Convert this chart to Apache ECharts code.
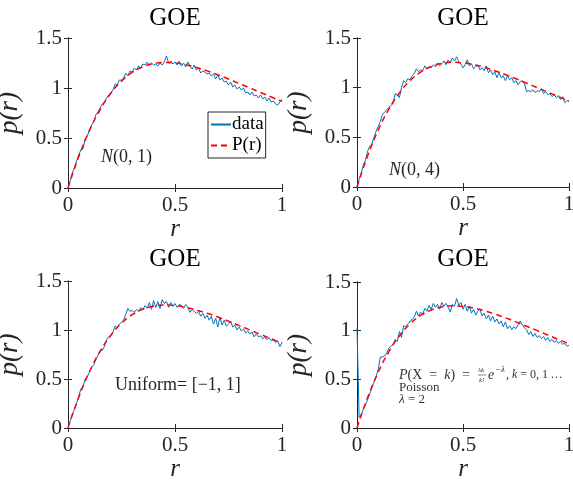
<!DOCTYPE html>
<html>
<head>
<meta charset="utf-8">
<script src="https://cdn.jsdelivr.net/npm/echarts@6/dist/echarts.min.js"></script>
<style>
  html, body { margin: 0; padding: 0; background: #fff; }
  #main { width: 573px; height: 480px; }
</style>
</head>
<body>
<div id="main"></div>
<script>
const chart = echarts.init(document.getElementById("main"));

// sample positions of the histogram (r)
const rData = [0, 0.01, 0.02, 0.03, 0.04, 0.05, 0.06, 0.07, 0.08, 0.09,
    0.10, 0.11, 0.12, 0.13, 0.14, 0.15, 0.16, 0.17, 0.18, 0.19,
    0.20, 0.21, 0.22, 0.23, 0.24, 0.25, 0.26, 0.27, 0.28, 0.29,
    0.30, 0.31, 0.32, 0.33, 0.34, 0.35, 0.36, 0.37, 0.38, 0.39,
    0.40, 0.41, 0.42, 0.43, 0.44, 0.45, 0.46, 0.47, 0.48, 0.49,
    0.50, 0.51, 0.52, 0.53, 0.54, 0.55, 0.56, 0.57, 0.58, 0.59,
    0.60, 0.61, 0.62, 0.63, 0.64, 0.65, 0.66, 0.67, 0.68, 0.69,
    0.70, 0.71, 0.72, 0.73, 0.74, 0.75, 0.76, 0.77, 0.78, 0.79,
    0.80, 0.81, 0.82, 0.83, 0.84, 0.85, 0.86, 0.87, 0.88, 0.89,
    0.90, 0.91, 0.92, 0.93, 0.94, 0.95, 0.96, 0.97, 0.98, 0.99, 1.00];

// N(0,1)
const dataN01 = [0.00, 0.07, 0.15, 0.20, 0.27, 0.33, 0.38, 0.39, 0.49, 0.52,
    0.58, 0.63, 0.66, 0.73, 0.76, 0.80, 0.84, 0.86, 0.90, 0.93,
    0.95, 0.98, 1.04, 1.03, 1.08, 1.08, 1.10, 1.15, 1.12, 1.17,
    1.16, 1.20, 1.18, 1.22, 1.20, 1.24, 1.23, 1.26, 1.23, 1.25,
    1.23, 1.24, 1.22, 1.25, 1.23, 1.26, 1.32, 1.25, 1.27, 1.24,
    1.26, 1.23, 1.27, 1.22, 1.25, 1.21, 1.26, 1.22, 1.19, 1.23,
    1.18, 1.20, 1.15, 1.17, 1.16, 1.14, 1.15, 1.12, 1.14, 1.09,
    1.13, 1.08, 1.10, 1.06, 1.07, 1.03, 1.06, 1.01, 1.03, 0.99,
    1.01, 0.98, 1.00, 0.95, 0.96, 0.93, 0.96, 0.92, 0.93, 0.90,
    0.93, 0.89, 0.91, 0.87, 0.90, 0.86, 0.87, 0.84, 0.83, 0.86, 0.89];

// N(0,4)
const dataN04 = [0.00, 0.08, 0.14, 0.22, 0.27, 0.36, 0.41, 0.43, 0.50, 0.56,
    0.61, 0.66, 0.73, 0.75, 0.78, 0.80, 0.82, 0.84, 0.94, 0.93,
    0.90, 1.00, 1.07, 1.05, 1.09, 1.08, 1.12, 1.14, 1.19, 1.16,
    1.18, 1.17, 1.22, 1.19, 1.21, 1.20, 1.23, 1.21, 1.25, 1.22,
    1.24, 1.27, 1.23, 1.28, 1.25, 1.30, 1.27, 1.31, 1.26, 1.24,
    1.20, 1.23, 1.28, 1.22, 1.24, 1.19, 1.21, 1.23, 1.18, 1.20,
    1.17, 1.22, 1.15, 1.18, 1.13, 1.16, 1.10, 1.15, 1.10, 1.12,
    1.07, 1.12, 1.08, 1.10, 1.05, 1.07, 1.03, 1.06, 1.07, 1.04,
    0.96, 0.97, 0.96, 0.98, 0.95, 0.97, 0.96, 0.99, 0.94, 0.96,
    0.93, 0.94, 0.91, 0.93, 0.90, 0.92, 0.88, 0.91, 0.85, 0.87, 0.86];

// Uniform [-1,1]
const dataUni = [0.04, 0.07, 0.14, 0.19, 0.25, 0.32, 0.40, 0.42, 0.50, 0.52,
    0.57, 0.62, 0.64, 0.70, 0.74, 0.79, 0.79, 0.83, 0.90, 0.93,
    0.94, 0.98, 1.04, 1.02, 1.06, 1.08, 1.10, 1.16, 1.22, 1.19,
    1.20, 1.18, 1.21, 1.19, 1.23, 1.21, 1.25, 1.22, 1.28, 1.21,
    1.30, 1.23, 1.29, 1.22, 1.31, 1.27, 1.29, 1.23, 1.28, 1.24,
    1.27, 1.23, 1.26, 1.25, 1.22, 1.26, 1.23, 1.18, 1.21, 1.19,
    1.17, 1.19, 1.14, 1.17, 1.12, 1.15, 1.10, 1.14, 1.06, 1.12,
    1.03, 1.13, 1.05, 1.10, 1.04, 1.06, 1.09, 1.03, 1.05, 1.00,
    1.03, 0.99, 1.01, 0.97, 0.99, 0.96, 0.98, 0.93, 0.96, 0.93,
    0.94, 0.91, 0.93, 0.90, 0.92, 0.89, 0.90, 0.87, 0.89, 0.83, 0.87];

// Poisson lambda = 2
const dataPoi = [1.03, 0.11, 0.14, 0.19, 0.24, 0.29, 0.35, 0.41, 0.47, 0.53,
    0.60, 0.73, 0.73, 0.74, 0.77, 0.82, 0.84, 0.86, 0.91, 0.89,
    0.99, 0.93, 1.05, 1.04, 1.07, 1.09, 1.12, 1.14, 1.20, 1.15,
    1.19, 1.17, 1.23, 1.20, 1.26, 1.22, 1.28, 1.24, 1.27, 1.22,
    1.29, 1.25, 1.28, 1.24, 1.19, 1.27, 1.25, 1.33, 1.26, 1.29,
    1.22, 1.27, 1.20, 1.25, 1.18, 1.22, 1.16, 1.20, 1.22, 1.15,
    1.18, 1.12, 1.16, 1.10, 1.15, 1.09, 1.12, 1.07, 1.10, 1.04,
    1.09, 1.02, 1.05, 1.01, 1.04, 1.02, 1.06, 1.10, 1.06, 1.03,
    1.01, 0.96, 0.99, 0.94, 0.97, 0.93, 0.95, 0.92, 0.94, 0.90,
    0.93, 0.89, 0.91, 0.88, 0.90, 0.87, 0.89, 0.86, 0.87, 0.84, 0.85];

// red dashed curve P(r)
const rCurve = [0, 0.05, 0.10, 0.15, 0.20, 0.25, 0.30, 0.35, 0.40, 0.45, 0.50,
    0.55, 0.60, 0.65, 0.70, 0.75, 0.80, 0.85, 0.90, 0.95, 1.00];
const pCurve = [0, 0.312, 0.572, 0.782, 0.946, 1.069, 1.156, 1.212, 1.244, 1.255, 1.250,
    1.232, 1.205, 1.171, 1.132, 1.090, 1.045, 1.000, 0.955, 0.910, 0.866];

const xTicks = ["0", "0.5", "1"];
const yTicks = ["0", "0.5", "1", "1.5"];

const panelData = [dataN01, dataN04, dataUni, dataPoi];

const grids = [
    { left: 68, top: 38, width: 214, height: 150, outerBoundsMode: "none" },
    { left: 357, top: 38, width: 212, height: 149, outerBoundsMode: "none" },
    { left: 68, top: 281, width: 214, height: 147, outerBoundsMode: "none" },
    { left: 357, top: 282, width: 212, height: 146, outerBoundsMode: "none" }
];

const serif = "Liberation Serif";
const axisColor = "#262626";

let xAxes = [], yAxes = [], series = [];

grids.forEach((g, i) => {
    xAxes.push({
        type: "value", gridIndex: i, min: 0, max: 1, interval: 0.5,
        name: "r", nameLocation: "middle", nameGap: 18,
        nameTextStyle: { fontFamily: serif, fontStyle: "italic", fontSize: 25, color: axisColor },
        axisLine: { lineStyle: { color: axisColor } },
        axisTick: { inside: true, length: 4, lineStyle: { color: axisColor } },
        axisLabel: {
            fontFamily: serif, fontSize: 21, color: axisColor, margin: 7,
            formatter: (v) => xTicks[Math.round(v * 2)]
        },
        splitLine: { show: false }
    });
    yAxes.push({
        type: "value", gridIndex: i, min: 0, max: 1.5, interval: 0.5,
        name: "p(r)", nameLocation: "middle", nameGap: 45, nameRotate: 90,
        nameTextStyle: { fontFamily: serif, fontStyle: "italic", fontSize: 27, color: axisColor },
        axisLine: { show: true, lineStyle: { color: axisColor } },
        axisTick: { show: true, inside: true, length: 4, lineStyle: { color: axisColor } },
        axisLabel: {
            fontFamily: serif, fontSize: 21, color: axisColor, margin: 6,
            formatter: (v) => yTicks[Math.round(v * 2)]
        },
        splitLine: { show: false }
    });
    series.push({
        name: "data", type: "line", xAxisIndex: i, yAxisIndex: i,
        data: rData.map((r, k) => [r, panelData[i][k]]),
        symbol: "none", lineStyle: { color: "#0072BD", width: 1 },
        itemStyle: { color: "#0072BD" }, z: 2
    });
    series.push({
        name: "P(r)", type: "line", xAxisIndex: i, yAxisIndex: i,
        data: rCurve.map((r, k) => [r, pCurve[k]]),
        smooth: true, symbol: "none",
        lineStyle: { color: "#ff0000", width: 1.5, type: [6, 4] },
        itemStyle: { color: "#ff0000" }, z: 3
    });
});

// box: top and right axes with ticks, no labels
grids.forEach((g, i) => {
    xAxes.push({
        type: "value", gridIndex: i, position: "top", min: 0, max: 1, interval: 0.5,
        axisLine: { lineStyle: { color: axisColor } },
        axisTick: { inside: true, length: 4, lineStyle: { color: axisColor } },
        axisLabel: { show: false }, splitLine: { show: false }
    });
    yAxes.push({
        type: "value", gridIndex: i, position: "right", min: 0, max: 1.5, interval: 0.5,
        axisLine: { show: true, lineStyle: { color: axisColor } },
        axisTick: { show: true, inside: true, length: 4, lineStyle: { color: axisColor } },
        axisLabel: { show: false }, splitLine: { show: false }
    });
});

const noteColor = "#262626";
const small = "#333";
const ital = (size, fill) => ({ fontFamily: serif, fontStyle: "italic", fontSize: size, fill: fill });

// plain text element helper
function txt(x, y, text, size, fill, extra) {
    return {
        type: "text", x: x, y: y,
        style: Object.assign({
            text: text, fontFamily: serif, fontSize: size, fill: fill, verticalAlign: "middle"
        }, extra || {})
    };
}

const graphics = [
    txt(175, 18, "GOE", 25, "#000", { align: "center" }),
    txt(463, 18, "GOE", 25, "#000", { align: "center" }),
    txt(175, 259, "GOE", 25, "#000", { align: "center" }),
    txt(463, 259, "GOE", 25, "#000", { align: "center" }),
    txt(101, 157, "{i|N}(0, 1)", 18, noteColor, { rich: { i: ital(18, noteColor) } }),
    txt(389, 170, "{i|N}(0, 4)", 18, noteColor, { rich: { i: ital(18, noteColor) } }),
    txt(115, 385, "Uniform= [\u22121, 1]", 18, noteColor),
    txt(399, 375, "{i|P}(X\u2002=\u2002{i|k})\u2002=", 14, small, { rich: { i: ital(14, small) } }),
    txt(478, 370, "\u03bbk", 7, small, { fontStyle: "italic" }),
    { type: "line", shape: { x1: 478, y1: 375, x2: 486, y2: 375 }, style: { stroke: small, lineWidth: 0.6 } },
    txt(479, 380, "k!", 7, small, { fontStyle: "italic" }),
    txt(488, 375, "e", 14, small, { fontStyle: "italic" }),
    txt(495, 370, "\u2212\u03bb", 9, small, { fontStyle: "italic" }),
    txt(506, 375, ", {i|k} = 0, 1\u2009\u2026", 12, small, { rich: { i: ital(12, small) } }),
    txt(399, 388, "Poisson", 13, small),
    txt(399, 400, "{i|\u03bb} = 2", 13, small, { rich: { i: ital(13, small) } })
];

const option = {
    animation: false,
    backgroundColor: "#fff",
    grid: grids,
    xAxis: xAxes,
    yAxis: yAxes,
    legend: {
        data: ["data", "P(r)"],
        orient: "vertical",
        left: 208, top: 112,
        itemWidth: 20, itemHeight: 12, itemGap: 2,
        padding: [3, 2, 3, 2],
        backgroundColor: "#fff",
        borderColor: axisColor, borderWidth: 1, borderRadius: 0,
        selectedMode: false,
        itemStyle: { opacity: 0 },
        textStyle: { fontFamily: serif, fontSize: 19, color: "#000", padding: [0, 0, 0, -4] }
    },
    graphic: graphics,
    series: series
};

chart.setOption(option);
</script>
</body>
</html>
